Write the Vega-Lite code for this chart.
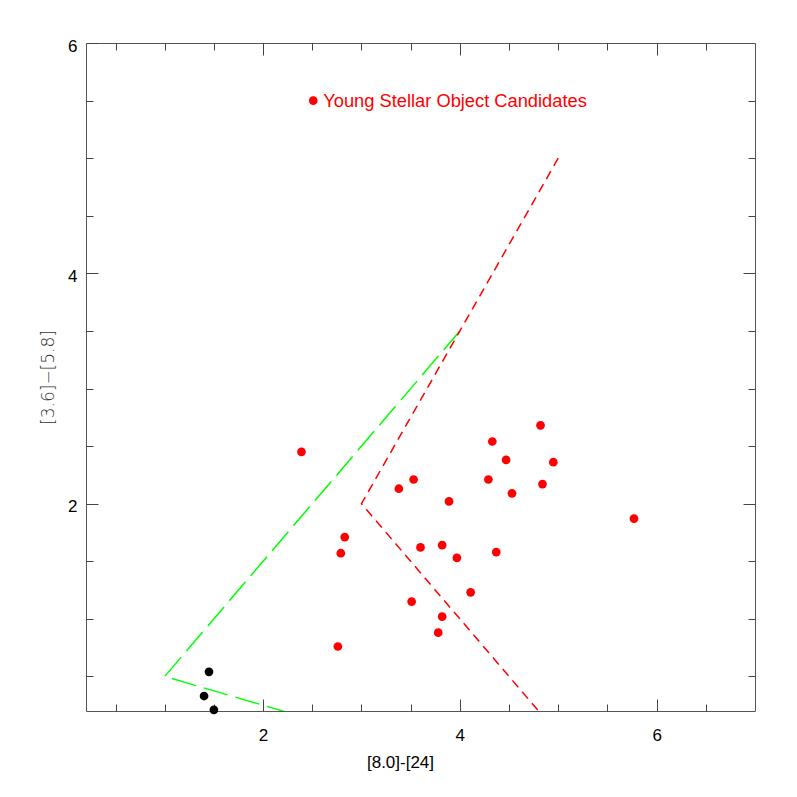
{
  "$schema": "https://vega.github.io/schema/vega-lite/v6.json",
  "width": 669,
  "height": 668,
  "autosize": {"type": "none"},
  "padding": {"left": 86, "top": 43, "right": 42, "bottom": 86},
  "background": "white",
  "config": {
    "view": {"stroke": "#555555", "strokeWidth": 1},
    "axis": {"domain": false, "grid": false, "tickColor": "#444444", "tickWidth": 1, "labelFont": "Liberation Sans", "labelFontSize": 17, "labelColor": "black", "titleFont": "Liberation Sans", "titleFontWeight": "normal"}
  },
  "datasets": {
    "pts": [
      {"x": 2.39, "y": 2.45, "grp": "yso"},
      {"x": 3.53, "y": 2.21, "grp": "yso"},
      {"x": 3.38, "y": 2.13, "grp": "yso"},
      {"x": 3.89, "y": 2.02, "grp": "yso"},
      {"x": 2.83, "y": 1.71, "grp": "yso"},
      {"x": 2.79, "y": 1.57, "grp": "yso"},
      {"x": 3.60, "y": 1.62, "grp": "yso"},
      {"x": 3.82, "y": 1.64, "grp": "yso"},
      {"x": 3.97, "y": 1.53, "grp": "yso"},
      {"x": 4.11, "y": 1.23, "grp": "yso"},
      {"x": 3.51, "y": 1.15, "grp": "yso"},
      {"x": 3.82, "y": 1.02, "grp": "yso"},
      {"x": 3.78, "y": 0.88, "grp": "yso"},
      {"x": 2.76, "y": 0.76, "grp": "yso"},
      {"x": 4.82, "y": 2.68, "grp": "yso"},
      {"x": 4.33, "y": 2.54, "grp": "yso"},
      {"x": 4.47, "y": 2.38, "grp": "yso"},
      {"x": 4.95, "y": 2.36, "grp": "yso"},
      {"x": 4.29, "y": 2.21, "grp": "yso"},
      {"x": 4.53, "y": 2.09, "grp": "yso"},
      {"x": 4.84, "y": 2.17, "grp": "yso"},
      {"x": 5.77, "y": 1.87, "grp": "yso"},
      {"x": 4.37, "y": 1.58, "grp": "yso"},
      {"x": 2.51, "y": 5.5, "grp": "yso"},
      {"x": 1.45, "y": 0.54, "grp": "field"},
      {"x": 1.40, "y": 0.33, "grp": "field"},
      {"x": 1.50, "y": 0.21, "grp": "field"}
    ],
    "lines": [
      {"x": 4, "y": 3.5, "b": "A", "o": 1},
      {"x": 1, "y": 0.5, "b": "A", "o": 2},
      {"x": 3, "y": 0, "b": "A", "o": 3},
      {"x": 5, "y": 5, "b": "B", "o": 1},
      {"x": 3, "y": 2, "b": "B", "o": 2},
      {"x": 5, "y": 0, "b": "B", "o": 3}
    ],
    "legend": [
      {"x": 2.51, "y": 5.5, "label": "Young Stellar Object Candidates"}
    ]
  },
  "layer": [
    {
      "data": {"name": "lines"},
      "mark": {"type": "line", "clip": true, "strokeWidth": 1.5},
      "encoding": {
        "x": {"field": "x", "type": "quantitative", "scale": {"domain": [0.2, 7], "nice": false, "zero": false},
          "axis": {"orient": "bottom", "values": [2, 4, 6], "tickSize": -12, "labelPadding": 28, "title": "[8.0]-[24]", "titleFontSize": 17, "titleColor": "black", "titleX": 314, "titleY": 51, "titleBaseline": "middle", "titleAlign": "center"}},
        "y": {"field": "y", "type": "quantitative", "scale": {"domain": [0.2, 6], "nice": false, "zero": false},
          "axis": {"orient": "left", "values": [2, 4, 6], "tickSize": -12, "labelPadding": 21, "labelOffset": 3, "title": "[3.6]−[5.8]", "titleFont": "DejaVu Sans", "titleFontWeight": 200, "titleFontSize": 17, "titleColor": "#333333", "titleX": -38, "titleY": 334, "titleAngle": -90, "titleBaseline": "middle", "titleAlign": "center"}},
        "color": {"field": "b", "type": "nominal", "scale": {"domain": ["A", "B"], "range": ["#00ff00", "#ff0000"]}, "legend": null},
        "strokeDash": {"field": "b", "type": "nominal", "scale": {"domain": ["A", "B"], "range": [[25, 8], [9, 6]]}, "legend": null},
        "order": {"field": "o", "type": "quantitative"}
      }
    },
    {
      "data": {"name": "pts"},
      "transform": [{"filter": "datum.grp == 'yso'"}],
      "mark": {"type": "point", "filled": true, "opacity": 1, "size": 76, "color": "#ff0000"},
      "encoding": {
        "x": {"field": "x", "type": "quantitative", "scale": {"domain": [0.2, 7], "nice": false, "zero": false},
          "axis": {"orient": "bottom", "values": [0.5, 1, 1.5, 2.5, 3, 3.5, 4.5, 5, 5.5, 6.5], "tickSize": -7, "labels": false, "title": null}},
        "y": {"field": "y", "type": "quantitative", "scale": {"domain": [0.2, 6], "nice": false, "zero": false},
          "axis": {"orient": "left", "values": [0.5, 1, 1.5, 2.5, 3, 3.5, 4.5, 5, 5.5], "tickSize": -7, "labels": false, "title": null}}
      }
    },
    {
      "data": {"name": "pts"},
      "transform": [{"filter": "datum.grp == 'field'"}],
      "mark": {"type": "point", "filled": true, "opacity": 1, "size": 76, "color": "black"},
      "encoding": {
        "x": {"field": "x", "type": "quantitative", "scale": {"domain": [0.2, 7], "nice": false, "zero": false},
          "axis": {"orient": "top", "values": [2, 4, 6], "tickSize": -12, "labels": false, "title": null}},
        "y": {"field": "y", "type": "quantitative", "scale": {"domain": [0.2, 6], "nice": false, "zero": false},
          "axis": {"orient": "right", "values": [2, 4], "tickSize": -12, "labels": false, "title": null}}
      }
    },
    {
      "data": {"name": "legend"},
      "mark": {"type": "text", "align": "left", "baseline": "middle", "dx": 10, "dy": 1, "font": "Liberation Sans", "fontSize": 18.3, "color": "#ff0000"},
      "encoding": {
        "x": {"field": "x", "type": "quantitative", "scale": {"domain": [0.2, 7], "nice": false, "zero": false},
          "axis": {"orient": "top", "values": [0.5, 1, 1.5, 2.5, 3, 3.5, 4.5, 5, 5.5, 6.5], "tickSize": -7, "labels": false, "title": null}},
        "y": {"field": "y", "type": "quantitative", "scale": {"domain": [0.2, 6], "nice": false, "zero": false},
          "axis": {"orient": "right", "values": [0.5, 1, 1.5, 2.5, 3, 3.5, 4.5, 5, 5.5], "tickSize": -7, "labels": false, "title": null}},
        "text": {"field": "label", "type": "nominal"}
      }
    }
  ],
  "resolve": {"axis": {"x": "independent", "y": "independent"}}
}
